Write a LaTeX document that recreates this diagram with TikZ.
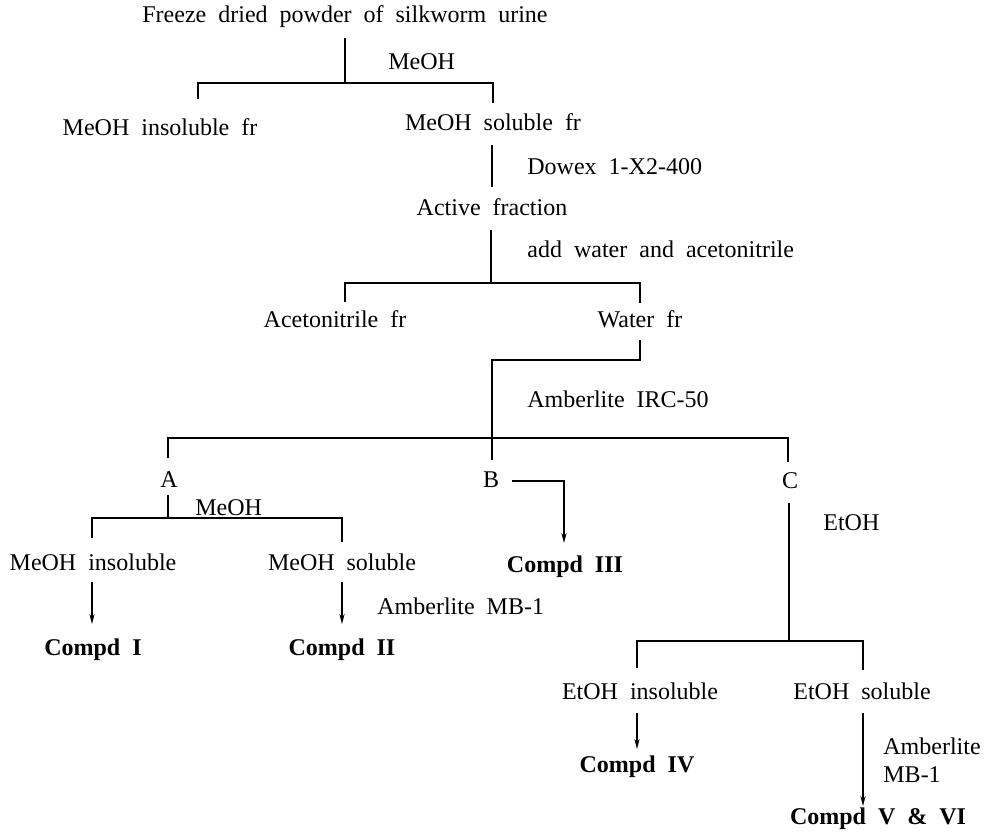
\documentclass[tikz,border=0pt]{standalone}
\usepackage{fontspec}
\setmainfont{Liberation Serif}[WordSpace=2]
\usetikzlibrary{arrows.meta}
\begin{document}
\begin{tikzpicture}[x=0.5pt,y=-0.5pt,
  txt/.style={inner sep=0pt, anchor=base, font=\fontsize{12}{14}\selectfont},
  lbl/.style={txt, anchor=base west},
  cmp/.style={txt, font=\fontsize{12}{14}\selectfont\bfseries},
  ln/.style={draw=black, line width=0.7pt},
  arr/.style={ln, -{Stealth[length=5pt,width=2.6pt]}}]
\useasboundingbox (0,0) rectangle (995,831);
% texts
\node[txt] (title) at (345,22) {Freeze dried powder of silkworm urine};
\node[lbl] (m1) at (388,69) {MeOH};
\node[txt] (insfr) at (160,135) {MeOH insoluble fr};
\node[txt] (solfr) at (493,130) {MeOH soluble fr};
\node[lbl] (dowex) at (527,174) {Dowex 1-X2-400};
\node[txt] (act) at (492,215) {Active fraction};
\node[lbl] (addw) at (527,257) {add water and acetonitrile};
\node[txt] (acn) at (335,327) {Acetonitrile fr};
\node[txt] (wat) at (640,327) {Water fr};
\node[lbl] (irc) at (527,407) {Amberlite IRC-50};
\node[txt] (A) at (169,487) {A};
\node[txt] (B) at (491,487) {B};
\node[txt] (C) at (790,488) {C};
\node[lbl] (m2) at (195,515) {MeOH};
\node[txt] (mins) at (93,570) {MeOH insoluble};
\node[txt] (msol) at (342,570) {MeOH soluble};
\node[lbl] (mb1) at (377,614) {Amberlite MB-1};
\node[cmp] (c1) at (93,655) {Compd I};
\node[cmp] (c2) at (342,655) {Compd II};
\node[cmp] (c3) at (565,572) {Compd III};
\node[lbl] (et) at (823,530) {EtOH};
\node[txt] (eins) at (640,699) {EtOH insoluble};
\node[txt] (esol) at (862,699) {EtOH soluble};
\node[cmp] (c4) at (637,772) {Compd IV};
\node[lbl] (amb) at (883,754) {Amberlite};
\node[lbl] (mb) at (883,782) {MB-1};
\node[cmp] (c56) at (878,824) {Compd V \& VI};
% junction coordinates
\coordinate (t0) at (345,38);
\coordinate (s1) at (345,83);
\coordinate (s1l) at (198,83);
\coordinate (s1r) at (493,83);
\coordinate (d1l) at (198,99);
\coordinate (d1r) at (493,103);
\coordinate (p1) at (492,145);
\coordinate (p2) at (492,187);
\coordinate (p3) at (491,230);
\coordinate (s2) at (491,283);
\coordinate (s2l) at (345,283);
\coordinate (s2r) at (640,283);
\coordinate (d2l) at (345,302);
\coordinate (d2r) at (640,303);
\coordinate (w0) at (640,340);
\coordinate (w1) at (640,360);
\coordinate (w2) at (492,360);
\coordinate (s3) at (492,438);
\coordinate (s3l) at (168,438);
\coordinate (s3r) at (788,438);
\coordinate (dA) at (168,458);
\coordinate (dB) at (492,460);
\coordinate (dC) at (788,462);
\coordinate (a0) at (168,495);
\coordinate (s4) at (168,518);
\coordinate (s4l) at (92,518);
\coordinate (s4r) at (342,518);
\coordinate (d4l) at (92,538);
\coordinate (d4r) at (342,542);
\coordinate (al0) at (92,582);
\coordinate (al1) at (92,624);
\coordinate (ar0) at (342,582);
\coordinate (ar1) at (342,624);
\coordinate (b0) at (512,481);
\coordinate (b1) at (564,481);
\coordinate (b2) at (564,543);
\coordinate (c0) at (789,503);
\coordinate (s5) at (789,641);
\coordinate (s5l) at (637,641);
\coordinate (s5r) at (863,641);
\coordinate (d5l) at (637,668);
\coordinate (d5r) at (863,670);
\coordinate (el0) at (637,713);
\coordinate (el1) at (637,749);
\coordinate (er0) at (863,713);
\coordinate (er1) at (863,806);
% connectors
\draw[ln] (t0) -- (s1);
\draw[ln] (d1l) -- (s1l) -- (s1r) -- (d1r);
\draw[ln] (p1) -- (p2);
\draw[ln] (p3) -- (s2);
\draw[ln] (d2l) -- (s2l) -- (s2r) -- (d2r);
\draw[ln] (w0) -- (w1) -- (w2) -- (dB);
\draw[ln] (dA) -- (s3l) -- (s3r) -- (dC);
\draw[ln] (a0) -- (s4);
\draw[ln] (d4l) -- (s4l) -- (s4r) -- (d4r);
\draw[arr] (al0) -- (al1);
\draw[arr] (ar0) -- (ar1);
\draw[arr] (b0) -- (b1) -- (b2);
\draw[ln] (c0) -- (s5);
\draw[ln] (d5l) -- (s5l) -- (s5r) -- (d5r);
\draw[arr] (el0) -- (el1);
\draw[arr] (er0) -- (er1);
\end{tikzpicture}
\end{document}
